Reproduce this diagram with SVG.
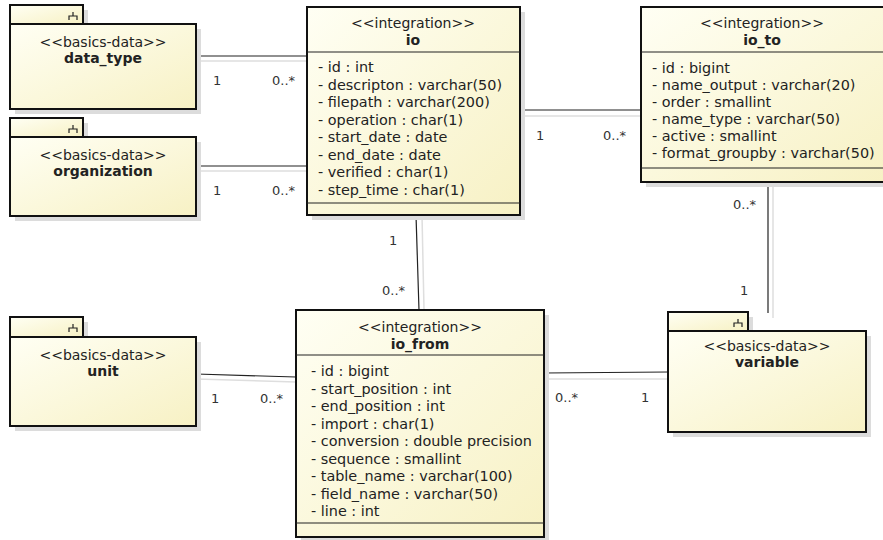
<svg xmlns="http://www.w3.org/2000/svg" width="883" height="540" viewBox="0 0 883 540">
<defs>
<linearGradient id="fill" x1="0" y1="0" x2="1" y2="1">
<stop offset="0" stop-color="#fffff4"/>
<stop offset="1" stop-color="#f7f1c4"/>
</linearGradient>
</defs>
<style>
.sh{fill:#dcdcdc;stroke:none}
.box{fill:url(#fill);stroke:#111;stroke-width:2}
.sep{stroke:#222;stroke-width:1.2;fill:none}
.icon{stroke:#222;stroke-width:1.2;fill:none}
text{font-family:"DejaVu Sans",sans-serif;font-size:14.4px;fill:#222}
.st{text-anchor:middle;font-size:14px}
.nm{text-anchor:middle;font-weight:bold;font-size:14px}
.lbl{font-size:13px;fill:#333}
.ln{stroke:#222;stroke-width:1.2;fill:none}
.lsh{stroke:#dedede;stroke-width:1.5;fill:none}
</style>
<rect width="883" height="540" fill="#fff"/>

<g id="connectors">
<line class="lsh" x1="196" y1="61" x2="307" y2="61"/>
<line class="ln" x1="196" y1="56" x2="307" y2="56"/>
<line class="lsh" x1="196" y1="171" x2="307" y2="171"/>
<line class="ln" x1="196" y1="166" x2="307" y2="166"/>
<line class="lsh" x1="520" y1="116" x2="641" y2="116"/>
<line class="ln" x1="520" y1="110" x2="641" y2="110"/>
<line class="lsh" x1="422" y1="215" x2="424" y2="310"/>
<line class="ln" x1="416" y1="215" x2="419" y2="310"/>
<line class="lsh" x1="196" y1="379" x2="296" y2="382"/>
<line class="ln" x1="196" y1="374" x2="296" y2="377"/>
<line class="lsh" x1="544" y1="379" x2="676" y2="379"/>
<line class="ln" x1="544" y1="373" x2="668" y2="372"/>
<line class="lsh" x1="773" y1="182" x2="773" y2="318"/>
<line class="ln" x1="768" y1="182" x2="768" y2="313"/>
<text class="lbl" x="213" y="85">1</text>
<text class="lbl" x="272" y="85">0..*</text>
<text class="lbl" x="213" y="195">1</text>
<text class="lbl" x="272" y="195">0..*</text>
<text class="lbl" x="536" y="140">1</text>
<text class="lbl" x="603" y="140">0..*</text>
<text class="lbl" x="389" y="245">1</text>
<text class="lbl" x="382" y="295">0..*</text>
<text class="lbl" x="211" y="403">1</text>
<text class="lbl" x="260" y="403">0..*</text>
<text class="lbl" x="555" y="402">0..*</text>
<text class="lbl" x="641" y="402">1</text>
<text class="lbl" x="733" y="209">0..*</text>
<text class="lbl" x="740" y="295">1</text>
</g>

<g id="data_type">
<rect class="sh" x="15" y="10" width="73" height="19"/>
<rect class="sh" x="15" y="29" width="186" height="85"/>
<rect class="box" x="10" y="5" width="73" height="19"/>
<rect class="box" x="10" y="24" width="186" height="85"/>
<path class="icon" d="M73,12V16M69,20V16H77V20"/>
<text class="st" x="103" y="47">&lt;&lt;basics-data&gt;&gt;</text>
<text class="nm" x="103" y="63">data_type</text>
</g>

<g id="organization">
<rect class="sh" x="15" y="123" width="73" height="19"/>
<rect class="sh" x="15" y="142" width="186" height="79"/>
<rect class="box" x="10" y="118" width="73" height="19"/>
<rect class="box" x="10" y="137" width="186" height="79"/>
<path class="icon" d="M73,125V129M69,133V129H77V133"/>
<text class="st" x="103" y="160">&lt;&lt;basics-data&gt;&gt;</text>
<text class="nm" x="103" y="176">organization</text>
</g>

<g id="unit">
<rect class="sh" x="15" y="322" width="73" height="20"/>
<rect class="sh" x="15" y="342" width="186" height="89"/>
<rect class="box" x="10" y="317" width="73" height="20"/>
<rect class="box" x="10" y="337" width="186" height="89"/>
<path class="icon" d="M73,324V328M69,332V328H77V332"/>
<text class="st" x="103" y="360">&lt;&lt;basics-data&gt;&gt;</text>
<text class="nm" x="103" y="376">unit</text>
</g>

<g id="variable">
<rect class="sh" x="673" y="317" width="80" height="19"/>
<rect class="sh" x="673" y="336" width="198" height="101"/>
<rect class="box" x="668" y="312" width="80" height="19"/>
<rect class="box" x="668" y="331" width="198" height="101"/>
<path class="icon" d="M738,319V323M734,327V323H742V327"/>
<text class="st" x="767" y="351">&lt;&lt;basics-data&gt;&gt;</text>
<text class="nm" x="767" y="367">variable</text>
</g>

<g id="io">
<rect class="sh" x="312" y="12" width="213" height="208"/>
<rect class="box" x="307" y="7" width="213" height="208"/>
<line class="sep" x1="307" y1="52" x2="520" y2="52"/>
<line class="sep" x1="307" y1="203" x2="520" y2="203"/>
<text class="st" x="413" y="28">&lt;&lt;integration&gt;&gt;</text>
<text class="nm" x="413" y="45">io</text>
<text x="318" y="72">- id : int</text>
<text x="318" y="89.5">- descripton : varchar(50)</text>
<text x="318" y="107">- filepath : varchar(200)</text>
<text x="318" y="124.5">- operation : char(1)</text>
<text x="318" y="142">- start_date : date</text>
<text x="318" y="159.5">- end_date : date</text>
<text x="318" y="177">- verified : char(1)</text>
<text x="318" y="194.5">- step_time : char(1)</text>
</g>

<g id="io_to">
<rect class="sh" x="646" y="12" width="245" height="175"/>
<rect class="box" x="641" y="7" width="245" height="175"/>
<line class="sep" x1="641" y1="52" x2="886" y2="52"/>
<line class="sep" x1="641" y1="168" x2="886" y2="168"/>
<text class="st" x="762" y="28">&lt;&lt;integration&gt;&gt;</text>
<text class="nm" x="762" y="45">io_to</text>
<text x="652" y="73">- id : bigint</text>
<text x="652" y="90">- name_output : varchar(20)</text>
<text x="652" y="107">- order : smallint</text>
<text x="652" y="124">- name_type : varchar(50)</text>
<text x="652" y="141">- active : smallint</text>
<text x="652" y="158">- format_groupby : varchar(50)</text>
</g>

<g id="io_from">
<rect class="sh" x="301" y="315" width="248" height="227"/>
<rect class="box" x="296" y="310" width="248" height="227"/>
<line class="sep" x1="296" y1="355" x2="544" y2="355"/>
<line class="sep" x1="296" y1="523" x2="544" y2="523"/>
<text class="st" x="420" y="332">&lt;&lt;integration&gt;&gt;</text>
<text class="nm" x="420" y="349">io_from</text>
<text x="311" y="376">- id : bigint</text>
<text x="311" y="393.5">- start_position : int</text>
<text x="311" y="411">- end_position : int</text>
<text x="311" y="428.5">- import : char(1)</text>
<text x="311" y="446">- conversion : double precision</text>
<text x="311" y="463.5">- sequence : smallint</text>
<text x="311" y="481">- table_name : varchar(100)</text>
<text x="311" y="498.5">- field_name : varchar(50)</text>
<text x="311" y="516">- line : int</text>
</g>
</svg>
